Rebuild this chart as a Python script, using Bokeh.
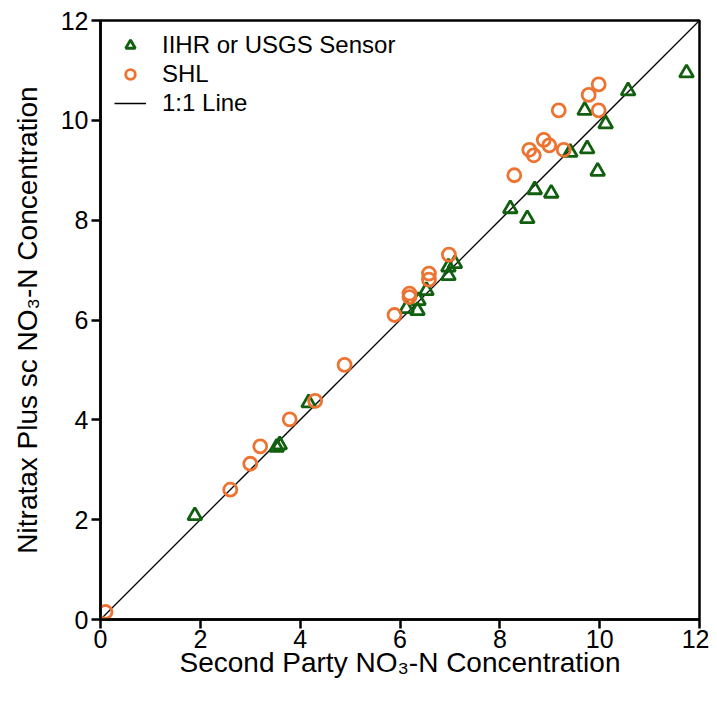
from bokeh.plotting import figure
from bokeh.models import Range1d, Legend, LegendItem, FixedTicker
from bokeh.embed import file_html
from bokeh.resources import INLINE

# IIHR or USGS Sensor
iihr_x = [1.89, 3.53, 3.59, 4.17, 6.13, 6.35, 6.37, 6.53, 6.97, 6.97, 7.10,
          8.21, 8.55, 8.70, 9.03, 9.41, 9.75, 9.70, 9.96, 10.12, 10.57, 11.74]
iihr_y = [2.08, 3.45, 3.50, 4.34, 6.23, 6.19, 6.39, 6.59, 6.89, 7.06, 7.13,
          8.23, 8.03, 8.61, 8.54, 9.36, 9.43, 10.20, 8.98, 9.93, 10.59, 10.95]

# SHL
shl_x = [0.10, 2.60, 3.00, 3.20, 3.79, 4.30, 4.89, 5.89, 6.19, 6.19, 6.58, 6.58, 6.98,
         8.29, 8.59, 8.68, 8.88, 8.99, 9.18, 9.28, 9.78, 9.98, 9.98]
shl_y = [0.15, 2.60, 3.12, 3.47, 4.01, 4.38, 5.10, 6.10, 6.53, 6.46, 6.93, 6.81, 7.31,
         8.90, 9.41, 9.30, 9.61, 9.50, 10.20, 9.41, 10.51, 10.72, 10.20]

# 1:1 line
line_x = [0, 12]
line_y = [0, 12]

tick_values = [0, 2, 4, 6, 8, 10, 12]

GREEN = "#10600f"
ORANGE = "#ee7330"
FONT = "Liberation Sans"

p = figure(width=709, height=699,
           x_range=Range1d(0, 12), y_range=Range1d(0, 12),
           output_backend="svg", toolbar_location=None,
           min_border_left=100, min_border_right=10,
           min_border_top=20, min_border_bottom=80)

p.xgrid.visible = False
p.ygrid.visible = False
p.outline_line_color = "black"
p.outline_line_width = 2.5
p.outline_line_alpha = 1.0

r_line = p.line(line_x, line_y, line_color="black", line_width=1.3)
r_tri = p.scatter(iihr_x, iihr_y, marker="triangle", size=14,
                  fill_color="white", fill_alpha=0.0,
                  line_color=GREEN, line_width=2.8)
r_circ = p.scatter(shl_x, shl_y, marker="circle", size=13,
                   fill_color="white", fill_alpha=0.0,
                   line_color=ORANGE, line_width=2.8)

for ax in (p.xaxis[0], p.yaxis[0]):
    ax.ticker = FixedTicker(ticks=tick_values)
    ax.minor_tick_line_color = None
    ax.major_tick_in = 0
    ax.major_tick_out = 9
    ax.major_tick_line_width = 2.5
    ax.major_tick_line_color = "black"
    ax.axis_line_width = 2.5
    ax.axis_line_color = "black"
    ax.major_label_text_font = FONT
    ax.major_label_text_font_size = "25px"
    ax.major_label_text_color = "black"
    ax.axis_label_text_font = FONT
    ax.axis_label_text_font_size = "28px"
    ax.axis_label_text_font_style = "normal"
    ax.axis_label_text_color = "black"

p.xaxis[0].axis_label = "Second Party NO\u2083-N Concentration"
p.yaxis[0].axis_label = "Nitratax Plus sc NO\u2083-N Concentration"
p.xaxis[0].major_label_standoff = 1
p.yaxis[0].major_label_standoff = 3
p.xaxis[0].axis_label_standoff = -4
p.yaxis[0].axis_label_standoff = 15

legend = Legend(items=[
    LegendItem(label="IIHR or USGS Sensor", renderers=[r_tri]),
    LegendItem(label="SHL", renderers=[r_circ]),
    LegendItem(label="1:1 Line", renderers=[r_line]),
], location=(14, 502))
legend.border_line_color = None
legend.background_fill_alpha = 0.0
legend.padding = 8
legend.margin = 0
legend.glyph_width = 32
legend.glyph_height = 24
legend.label_height = 24
legend.spacing = 1
legend.label_standoff = 16
legend.label_text_font = FONT
legend.label_text_font_size = "24px"
legend.label_text_color = "black"
p.add_layout(legend, "center")

open("out.html", "w").write(file_html(p, INLINE))
